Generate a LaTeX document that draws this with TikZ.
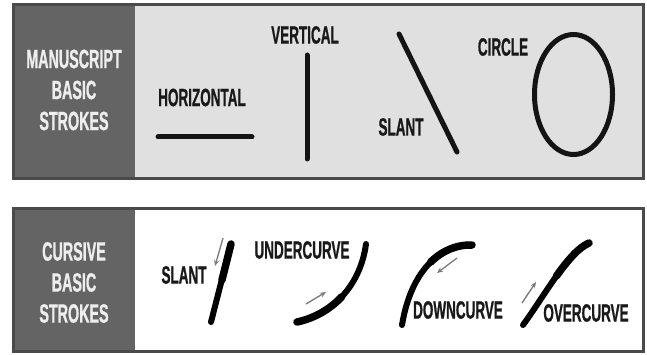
\documentclass[tikz,border=0pt]{standalone}
\usepackage{fontspec}
\newfontfamily\lbl[FakeStretch=0.54,FakeBold=0.8]{Liberation Sans}
\usetikzlibrary{arrows.meta}
\definecolor{framegray}{HTML}{4A4A4A}
\definecolor{sidegray}{HTML}{646464}
\definecolor{panelgray}{HTML}{E0E0E0}
\definecolor{sidetext}{HTML}{EEEEEE}
\definecolor{arrowgray}{HTML}{7A7A7A}
\tikzset{
  frame/.style={draw=framegray, line width=3pt},
  sidebar/.style={fill=sidegray},
  sidelabel/.style={font=\lbl\bfseries\fontsize{26.5}{31}\selectfont, text=sidetext, align=center, inner sep=0pt},
  strokelabel/.style={font=\lbl\bfseries\fontsize{25}{26}\selectfont, text=black!90, inner sep=0pt},
  plainstroke/.style={draw=black!92, line width=5pt, line cap=round},
  thinend/.style={draw=black, line width=6pt, line cap=round},
  thickend/.style={draw=black, line width=7.5pt, line cap=round},
  hint/.style={draw=arrowgray, line width=1.3pt, -{Stealth[length=6pt,width=5pt]}},
}
\begin{document}
\begin{tikzpicture}[x=1pt,y=-1pt]
\useasboundingbox (0,0) rectangle (647,355);
\fill[white] (0,0) rectangle (647,355);

% ---- manuscript panel ----
\fill[panelgray] (13.5,4.5) rectangle (643.5,178.5);
\fill[sidebar] (13.5,4.5) rectangle (135,178.5);
\draw[frame] (13.5,4.5) rectangle (643.5,178.5);
\node[sidelabel] (mtitle) at (74,90) {MANUSCRIPT\\BASIC\\STROKES};

\node[strokelabel] (hlab) at (202,97.5) {HORIZONTAL};
\coordinate (h1) at (158,137);
\coordinate (h2) at (252,137);
\draw[plainstroke] (h1) -- (h2);

\node[strokelabel] (vlab) at (305,35) {VERTICAL};
\coordinate (v1) at (307,55);
\coordinate (v2) at (307,159);
\draw[plainstroke] (v1) -- (v2);

\node[strokelabel] (slab) at (401,127) {SLANT};
\coordinate (s1) at (399,34);
\coordinate (s2) at (457,152);
\draw[plainstroke] (s1) -- (s2);

\node[strokelabel] (clab) at (503,47) {CIRCLE};
\draw[plainstroke] (573.5,94.5) ellipse [x radius=39, y radius=60];

% ---- cursive panel ----
\fill[white] (13.5,208.5) rectangle (643.5,351);
\fill[sidebar] (13.5,208.5) rectangle (135,351);
\draw[frame] (13.5,208.5) rectangle (643.5,351);
\node[sidelabel] (ctitle) at (74,282.5) {CURSIVE\\BASIC\\STROKES};

% slant: heavier at the top
\node[strokelabel] (cslab) at (184,275) {SLANT};
\coordinate (cs1) at (231,244);
\coordinate (csm) at (222,280);
\coordinate (cs2) at (211,322);
\draw[thinend] (cs1) -- (cs2);
\draw[thickend] (cs1) -- (csm);
\coordinate (csa1) at (223,238);
\coordinate (csa2) at (215,266);
\draw[hint] (csa1) -- (csa2);

% undercurve: heavier at the start (lower left)
\node[strokelabel] (ulab) at (302,250) {UNDERCURVE};
\coordinate (u1) at (297,322);
\coordinate (um) at (341.6,296.9);
\coordinate (u2) at (366,244);
\draw[thinend] (u1) .. controls (330,315) and (360,288) .. (u2);
\draw[thickend] (u1) .. controls (313.5,318.5) and (329.25,310) .. (um);
\coordinate (ua1) at (306,304);
\coordinate (ua2) at (326,292);
\draw[hint] (ua1) -- (ua2);

% downcurve: heavier at the start (upper right)
\node[strokelabel] (dlab) at (458,310) {DOWNCURVE};
\coordinate (d1) at (472,245);
\coordinate (dm) at (430.6,262.1);
\coordinate (d2) at (402,325);
\draw[thinend] (d1) .. controls (445,244) and (412,265) .. (d2);
\draw[thickend] (d1) .. controls (458.5,244.5) and (443.5,249.5) .. (dm);
\coordinate (da1) at (457,258);
\coordinate (da2) at (437,273);
\draw[hint] (da1) -- (da2);

% overcurve: heavier at the end (upper right)
\node[strokelabel] (olab) at (586,313) {OVERCURVE};
\coordinate (o1) at (523,325);
\coordinate (om) at (556.4,276.1);
\coordinate (o2) at (589,243);
\draw[thinend] (o1) .. controls (545,295) and (568,252) .. (o2);
\draw[thickend] (om) .. controls (567.5,260.5) and (578.5,247.5) .. (o2);
\coordinate (oa1) at (522,303);
\coordinate (oa2) at (536,282);
\draw[hint] (oa1) -- (oa2);
\end{tikzpicture}
\end{document}
